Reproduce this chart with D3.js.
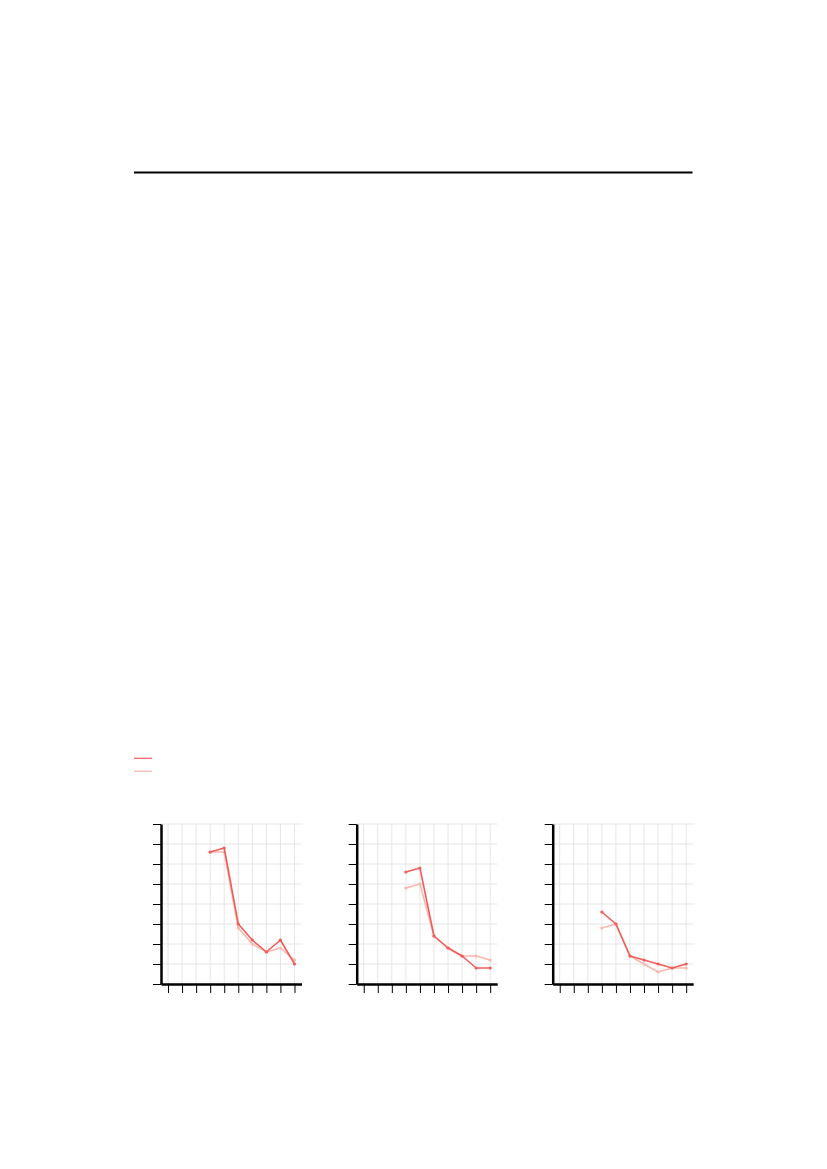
<!DOCTYPE html>
<html>
<head>
<meta charset="utf-8">
<script src="https://cdn.jsdelivr.net/npm/d3@7"></script>
<style>
  body { margin: 0; background: #fff; }
  svg { display: block; }
</style>
</head>
<body>
<div id="chart"></div>
<script>
// categories on the x axis (labels not shown in the picture)
const periods = ["1", "2", "3", "4", "5", "6", "7", "8", "9", "10"];
const yTicks = [0, 1, 2, 3, 4, 5, 6, 7, 8];

// dark series and light series for each of the three panels
const panelADark  = [null, null, null, 6.6, 6.8, 3.0, 2.2, 1.6, 2.2, 1.0];
const panelALight = [null, null, null, 6.6, 6.6, 2.8, 2.0, 1.6, 1.8, 1.2];
const panelBDark  = [null, null, null, 5.6, 5.8, 2.4, 1.8, 1.4, 0.8, 0.8];
const panelBLight = [null, null, null, 4.8, 5.0, 2.4, 1.8, 1.4, 1.4, 1.2];
const panelCDark  = [null, null, null, 3.6, 3.0, 1.4, 1.2, 1.0, 0.8, 1.0];
const panelCLight = [null, null, null, 2.8, 3.0, 1.4, 1.0, 0.6, 0.8, 0.8];

const panels = [
    { dark: panelADark, light: panelALight, left: 161 },
    { dark: panelBDark, light: panelBLight, left: 356.7 },
    { dark: panelCDark, light: panelCLight, left: 552.7 }
];

const darkColor = "#f15d5b";
const lightColor = "#f8b8ae";

const width = 827, height = 1169;
const svg = d3.select("#chart").append("svg")
    .attr("width", width)
    .attr("height", height);

// rule under the (empty) header
svg.append("line")
    .attr("x1", 134).attr("x2", 692.5)
    .attr("y1", 172.5).attr("y2", 172.5)
    .attr("stroke", "#000")
    .attr("stroke-width", 2);

// legend swatches
const legend = svg.append("g");
[darkColor, lightColor].forEach((c, i) => {
    legend.append("line")
        .attr("x1", 134).attr("x2", 152)
        .attr("y1", 758.3 + i * 13).attr("y2", 758.3 + i * 13)
        .attr("stroke", c)
        .attr("stroke-width", 1.2);
});

const plotW = 140.5, plotTop = 824, plotBottom = 984;
const y = d3.scaleLinear().domain([0, 8]).range([plotBottom, plotTop]);

panels.forEach(p => {
    const x = d3.scalePoint().domain(periods).range([p.left, p.left + plotW]).padding(0.5);
    const g = svg.append("g");

    // grid
    g.append("g").selectAll("line")
        .data(periods)
        .join("line")
        .attr("x1", d => x(d)).attr("x2", d => x(d))
        .attr("y1", plotTop).attr("y2", plotBottom)
        .attr("stroke", "#e6e6e6").attr("stroke-width", 1);
    g.append("g").selectAll("line")
        .data(yTicks)
        .join("line")
        .attr("x1", p.left).attr("x2", p.left + plotW)
        .attr("y1", d => y(d)).attr("y2", d => y(d))
        .attr("stroke", "#e6e6e6").attr("stroke-width", 1);

    // axes
    const yAxis = g.append("g")
        .attr("transform", `translate(${p.left},0)`)
        .call(d3.axisLeft(y).tickValues(yTicks).tickSize(8).tickSizeOuter(0).tickFormat(""));
    const xAxis = g.append("g")
        .attr("transform", `translate(0,${plotBottom})`)
        .call(d3.axisBottom(x).tickSize(9).tickSizeOuter(0).tickFormat(""));
    [yAxis, xAxis].forEach(a => {
        a.select(".domain").attr("stroke", "#000").attr("stroke-width", 2.5);
        a.selectAll(".tick line").attr("stroke", "#000").attr("stroke-width", 1);
    });

    // series
    const line = d3.line()
        .defined(d => d.v != null)
        .x(d => x(d.k))
        .y(d => y(d.v));
    [[p.light, lightColor], [p.dark, darkColor]].forEach(([vals, c]) => {
        const pts = periods.map((k, i) => ({ k, v: vals[i] }));
        g.append("path")
            .datum(pts)
            .attr("fill", "none")
            .attr("stroke", c)
            .attr("stroke-width", 1.6)
            .attr("stroke-linejoin", "round")
            .attr("d", line);
        g.append("g").selectAll("circle")
            .data(pts.filter(d => d.v != null))
            .join("circle")
            .attr("cx", d => x(d.k))
            .attr("cy", d => y(d.v))
            .attr("r", 1.6)
            .attr("fill", c);
    });
});
</script>
</body>
</html>
